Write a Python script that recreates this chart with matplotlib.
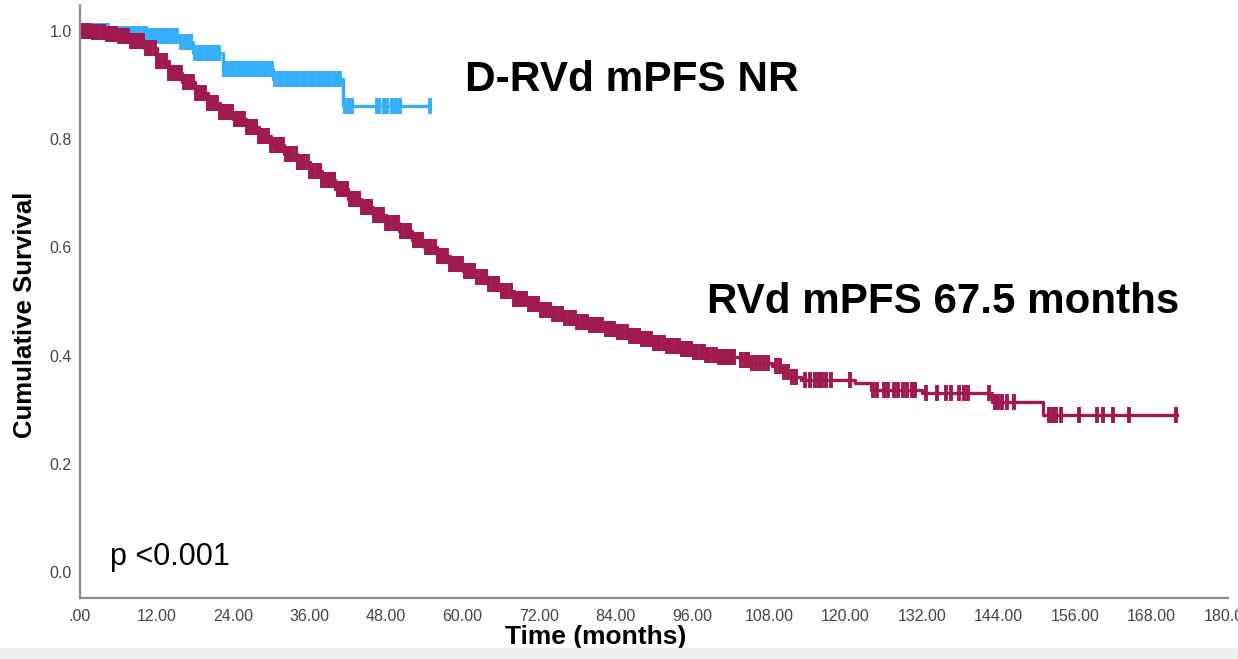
import numpy as np
import matplotlib
matplotlib.use("Agg")
import matplotlib.pyplot as plt
from matplotlib.ticker import FuncFormatter, MultipleLocator
from matplotlib.patches import Rectangle

plt.rcParams['font.family'] = ['Liberation Sans', 'DejaVu Sans']

# Kaplan-Meier step knots (months, cumulative survival)
rvd_t = [0, 2, 4, 6, 8, 10, 12, 14, 16, 18, 20, 22, 24, 26, 28, 30, 32, 34, 36,
         38, 40, 42, 44, 46, 48, 50, 52, 54, 56, 58, 60, 62, 64, 66, 68, 70, 72,
         74, 76, 78, 80, 82, 84, 86, 88, 90, 92, 94, 96, 98, 100, 103.5, 105,
         108.5, 110, 111.5, 113, 121.5, 124, 132, 143, 151]
rvd_s = [1.0, 0.998, 0.995, 0.99, 0.982, 0.968, 0.945, 0.922, 0.905, 0.885,
         0.866, 0.85, 0.838, 0.822, 0.805, 0.79, 0.773, 0.757, 0.742, 0.725,
         0.708, 0.69, 0.675, 0.66, 0.645, 0.63, 0.614, 0.6, 0.585, 0.57, 0.556,
         0.545, 0.533, 0.52, 0.505, 0.495, 0.485, 0.477, 0.47, 0.463, 0.457,
         0.45, 0.443, 0.437, 0.43, 0.424, 0.418, 0.413, 0.407, 0.402, 0.398,
         0.392, 0.386, 0.38, 0.37, 0.36, 0.355, 0.349, 0.337, 0.33, 0.314, 0.29]
rvd_end = 172.0

drvd_t = [0, 5, 10.5, 15.7, 17.7, 22.4, 30.3, 41.2]
drvd_s = [1.0, 0.995, 0.99, 0.98, 0.96, 0.93, 0.912, 0.862]
drvd_end = 54.9

# censored observations (months)
rvd_cens = [
    0.2, 0.6, 1.1, 1.5, 2.0, 2.4, 2.9, 3.4, 3.8, 4.3, 4.7, 5.2, 5.7, 6.1, 6.6,
    7.0, 7.5, 8.0, 8.4, 8.9, 9.4, 9.8, 10.3, 10.7, 11.2, 11.7, 12.1, 12.6, 13.1,
    13.5, 14.0, 14.5, 14.9, 15.4, 15.9, 16.3, 16.8, 17.3, 17.7, 18.2, 18.7,
    19.1, 19.6, 20.1, 20.5, 21.0, 21.5, 22.0, 22.4, 22.9, 23.4, 23.8, 24.3,
    24.8, 25.3, 25.7, 26.2, 26.7, 27.1, 27.6, 28.1, 28.6, 29.0, 29.5, 30.0,
    30.5, 30.9, 31.4, 31.9, 32.3, 32.8, 33.3, 33.8, 34.2, 34.7, 35.2, 35.7,
    36.1, 36.6, 37.1, 37.6, 38.0, 38.5, 39.0, 39.5, 39.9, 40.4, 40.9, 41.4,
    41.8, 42.3, 42.8, 43.3, 43.7, 44.2, 44.7, 45.2, 45.6, 46.1, 46.6, 47.1,
    47.5, 48.0, 48.5, 49.0, 49.4, 49.9, 50.4, 50.9, 51.3, 51.8, 52.3, 52.8,
    53.2, 53.7, 54.2, 54.7, 55.1, 55.6, 56.1, 56.6, 57.0, 57.5, 58.0, 58.5,
    59.0, 59.4, 59.9, 60.4, 60.9, 61.3, 61.8, 62.3, 62.8, 63.2, 63.7, 64.2,
    64.7, 65.1, 65.6, 66.1, 66.6, 67.0, 67.5, 68.0, 68.5, 69.0, 69.4, 69.9,
    70.4, 70.9, 71.3, 71.8, 72.3, 72.8, 73.2, 73.7, 74.2, 74.7, 75.2, 75.6,
    76.1, 76.6, 77.1, 77.6, 78.0, 78.5, 79.0, 79.5, 80.0, 80.4, 80.9, 81.4,
    81.9, 82.4, 82.8, 83.3, 83.8, 84.3, 84.8, 85.2, 85.7, 86.2, 86.7, 87.2,
    87.6, 88.1, 88.6, 89.1, 89.6, 90.0, 90.5, 91.0, 91.5, 92.0, 92.5, 92.9,
    93.4, 93.9, 94.4, 94.9, 95.3, 95.8, 96.3, 96.8, 97.3, 97.8, 98.2, 98.7,
    99.2, 99.7, 100.2, 100.7, 101.1, 101.6, 102.1, 102.6,
    103.6, 104.2, 104.8, 105.4, 106.0, 106.6, 107.2, 107.9, 109.2, 109.8,
    110.4, 111.0, 111.7, 112.3, 113.6, 114.4, 115.2, 115.8, 116.4, 117.0,
    117.7, 120.8, 124.3, 124.9, 126.0, 126.7, 127.6, 128.3, 129.0, 129.7,
    130.4, 131.0, 132.6, 134.4, 135.8, 136.5, 137.9, 138.6, 139.3, 142.6,
    143.4, 144.0, 144.6, 145.3, 146.5, 151.9, 152.5, 153.1, 153.8, 156.7,
    159.4, 160.4, 162.0, 164.5, 171.9]

drvd_cens = [
    1.2, 1.7, 2.3, 2.8, 3.3, 3.9, 4.4, 5.0, 5.5, 6.0, 6.6, 7.1, 7.6, 8.2, 8.7,
    9.3, 9.8, 10.3, 10.9, 11.4, 11.9, 12.5, 13.0, 13.6, 14.1, 14.6, 15.2,
    15.9, 16.4, 16.9, 17.4, 18.1, 18.6, 19.2, 19.7, 20.2, 20.8, 21.3, 21.8,
    22.6, 23.1, 23.7, 24.2, 24.7, 25.3, 25.8, 26.3, 26.9, 27.4, 28.0, 28.5,
    29.0, 29.6, 30.1, 30.6, 31.2, 31.7, 32.3, 32.8, 33.3, 33.9, 34.4, 34.9,
    35.5, 36.0, 36.6, 37.1, 37.6, 38.2, 38.7, 39.2, 39.8, 40.3, 40.8,
    41.6, 42.1, 42.7, 46.5, 46.9, 47.6, 48.2, 48.9, 49.5, 50.1, 54.9]

red = '#A0194F'
blue = '#35AEFC'


def surv_at(times, knots_t, knots_s):
    idx = np.searchsorted(knots_t, times, side='right') - 1
    return np.asarray(knots_s)[idx]


fig = plt.figure(figsize=(12.38, 6.59), dpi=100)
fig.patches.append(Rectangle((0, 0), 1, 11 / 659, transform=fig.transFigure,
                             color='#eeeeee', zorder=0))
ax = fig.add_axes([80 / 1238, 61 / 659, 1148 / 1238, 593 / 659])

for kt, ks, kend, cens, col in [(drvd_t, drvd_s, drvd_end, drvd_cens, blue),
                                (rvd_t, rvd_s, rvd_end, rvd_cens, red)]:
    ax.step(kt + [kend], ks + [ks[-1]], where='post', color=col, lw=2.4)
    ax.plot(cens, surv_at(cens, kt, ks), ls='none', marker='|', color=col,
            ms=12, mew=2.8)

ax.set_xlim(0, 180)
ax.set_ylim(-0.048, 1.048)
ax.xaxis.set_major_locator(MultipleLocator(12))
ax.yaxis.set_major_locator(MultipleLocator(0.2))
ax.xaxis.set_major_formatter(FuncFormatter(lambda v, _: '.00' if v == 0 else '%.2f' % v))
ax.yaxis.set_major_formatter(FuncFormatter(lambda v, _: '%.1f' % v))
ax.tick_params(length=0, labelsize=11.5, colors='#444444')
ax.tick_params(axis='x', pad=8)
ax.tick_params(axis='y', pad=6)
for s in ['top', 'right']:
    ax.spines[s].set_visible(False)
for s in ['left', 'bottom']:
    ax.spines[s].set_color('#8c8c8c')
    ax.spines[s].set_linewidth(1.6)

ax.set_ylabel('Cumulative Survival', fontsize=18.5, fontweight='bold')
ax.yaxis.set_label_coords(-0.0375, 0.477)
ax.set_xlabel('Time (months)', fontsize=19, fontweight='bold')
ax.xaxis.set_label_coords(0.4495, -0.045)

ax.text(60.4, 0.909, 'D-RVd mPFS NR', fontsize=30.5, fontweight='bold',
        ha='left', va='center')
ax.text(98.3, 0.499, 'RVd mPFS 67.5 months', fontsize=30.3, fontweight='bold',
        ha='left', va='center')
ax.text(4.7, 0.028, 'p <0.001', fontsize=22, ha='left', va='center')

fig.savefig('out.png', dpi=100)
